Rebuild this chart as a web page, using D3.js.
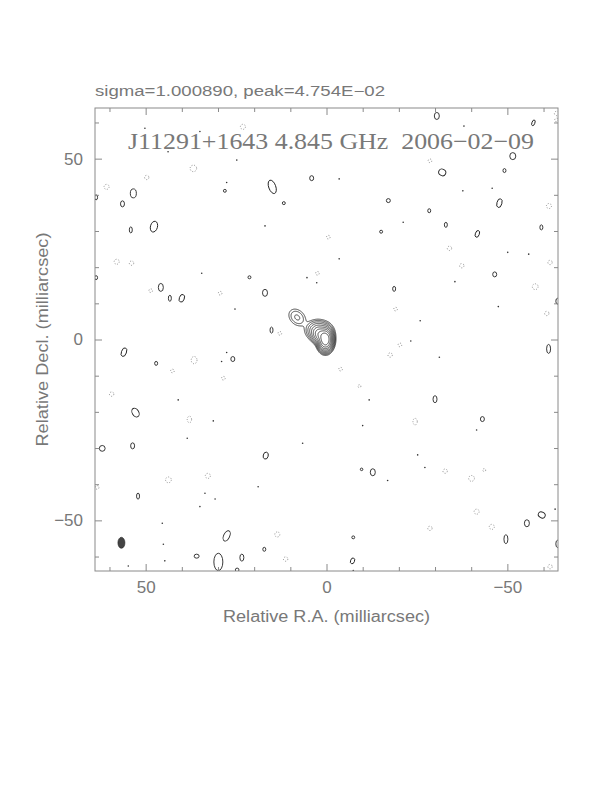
<!DOCTYPE html>
<html>
<head>
<meta charset="utf-8">
<script src="https://cdn.jsdelivr.net/npm/d3@7"></script>
<style>
  body { margin: 0; background: #fff; }
  svg { display: block; }
  text { white-space: pre; }
</style>
</head>
<body>
<svg id="chart"></svg>
<script>
// Texts
const headerText = "sigma=1.000890, peak=4.754E\u221202";
const mapTitle = "J11291+1643 4.845 GHz  2006\u221202\u221209";
const xLabel = "Relative R.A. (milliarcsec)";
const yLabel = "Relative Decl. (milliarcsec)";

// Axes (milliarcsec)
const xDomain = [64, -64];
const yDomain = [-64, 64];
const majorTicks = [-50, 0, 50];
const minorTicks = [-60, -40, -30, -20, -10, 10, 20, 30, 40, 60];

// Contour levels, as fraction of peak (doubling)
const contourLevels = [0.00195, 0.0039, 0.0078, 0.0156, 0.03125, 0.0625, 0.125, 0.25, 0.5];

// Source components: [x, y, amplitude, sigmaMajor, sigmaMinor, angle of major axis (deg)]
const components = [
  [0.3, 0.0, 1.0, 1.25, 0.82, 90],
  [1.6, 1.2, 0.25, 1.15, 0.95, 45],
  [2.0, 2.4, 0.05, 1.6, 1.25, 10],
  [8.1, 6.1, 0.009, 1.49, 1.11, 45]
];

// Small positive noise contours: [x, y, rx, ry, tilt]
const posBlobs = [
  [4.1, 44.6, 0.55, 0.69, 0], [28.1, 41.1, 0.4, 0.4, 0], [15.0, 42.2, 0.97, 1.94, -20],
  [63.7, 39.3, 0.41, 0.69, 0], [53.4, 40.4, 0.83, 1.24, 0], [56.4, 37.5, 0.55, 0.83, 0],
  [11.8, 37.7, 0.41, 0.41, 0], [54.1, 30.3, 0.41, 0.83, 0], [47.7, 31.2, 0.97, 1.52, 15],
  [21.3, 17.2, 0.41, 0.41, 0], [63.7, 17.1, 0.41, 0.55, 0], [45.8, 14.4, 0.69, 1.1, 0],
  [17.0, 12.9, 0.69, 0.97, 0], [43.3, 11.4, 0.41, 0.83, 0], [40.0, 11.4, 0.69, 1.1, 20],
  [15.2, 2.6, 0.41, 0.83, 0], [-30.5, 61.8, 0.69, 0.97, 0], [-57.2, 59.9, 0.41, 0.83, 20],
  [-51.5, 50.7, 0.83, 0.97, 0], [-49.2, 46.7, 0.41, 0.55, 0], [-32.0, 46.2, 1.0, 0.9, 30],
  [-17.1, 38.4, 0.55, 0.55, 0], [-47.8, 37.7, 0.69, 1.24, 15], [-28.4, 35.6, 0.41, 0.55, 0],
  [-33.0, 31.7, 0.41, 0.69, 0], [-15.1, 29.8, 0.41, 0.41, 0], [-41.7, 29.2, 0.55, 0.97, 20],
  [-59.4, 31.0, 0.41, 0.69, 0], [-46.5, 18.0, 0.55, 0.69, 0], [-18.7, 14.0, 0.41, 0.69, 0],
  [-63.9, 10.6, 0.5, 0.8, 0], [56.0, -3.5, 0.69, 1.24, 20], [47.1, -6.6, 0.41, 0.55, 0],
  [25.9, -5.4, 0.55, 0.69, 0], [52.8, -20.2, 0.9, 1.3, -30], [62.0, -30.1, 0.8, 0.8, 0],
  [53.6, -29.4, 0.55, 0.83, 0], [16.8, -32.1, 0.69, 0.97, 15], [52.1, -43.3, 0.41, 0.83, 0],
  [27.6, -54.3, 0.83, 1.52, 25], [17.2, -58.0, 0.41, 0.55, 0], [35.9, -59.9, 0.69, 0.55, 0],
  [29.9, -61.5, 1.24, 2.4, 0], [23.4, -60.3, 0.55, 0.97, 0], [24.7, -63.7, 0.5, 0.5, 0],
  [-61.4, -2.6, 0.55, 1.24, 0], [-30.0, -16.5, 0.55, 0.97, 0], [-43.1, -22.0, 0.55, 0.69, 0],
  [-12.8, -36.7, 0.69, 0.97, 0], [-9.7, -35.9, 0.35, 0.35, 0], [-55.4, -50.8, 0.69, 0.97, 0],
  [-59.5, -48.5, 1.0, 0.8, 30], [-49.6, -55.2, 0.55, 1.24, 0], [-7.4, -54.7, 0.4, 0.4, 0],
  [-63.9, -56.5, 0.5, 1.0, 0], [-7.2, -61.2, 0.55, 0.83, 20]
];

// Tiny positive noise peaks: [x, y]
const posDots = [
  [50.2, 58.4], [35.0, 57.5], [43.8, 51.9], [24.8, 49.6], [27.6, 43.4], [17.0, 31.4],
  [34.5, 18.3], [2.7, 15.7], [5.4, 17.1], [25.3, 8.4], [-38.0, 59.0], [-3.5, 44.4],
  [-37.7, 41.1], [-45.8, 41.8], [-21.2, 32.4], [-50.1, 24.1], [-55.9, 23.6], [-3.5, 22.3],
  [-35.5, 16.0], [-47.5, 9.1], [-25.9, 5.2], [27.6, -3.6], [29.0, -6.1], [41.0, -16.7],
  [31.3, -22.5], [38.5, -27.3], [6.6, -28.7], [18.9, -40.7], [33.6, -42.5], [30.8, -44.1],
  [35.0, -46.2], [45.4, -50.8], [45.1, -56.6], [54.8, -62.6], [44.7, -61.2], [-23.3, -0.4],
  [-31.2, -4.9], [-11.8, -16.7], [-10.0, -23.8], [-41.5, -25.0], [-25.2, -31.9],
  [-27.2, -35.4], [-16.9, -39.0], [-63.2, -46.9], [-7.4, -63.9]
];

// Negative noise contours (dotted): [x, y, rx, ry]
const negBlobs = [
  [23.1, 58.8, 0.7, 0.7], [36.8, 47.3, 0.9, 0.9], [49.7, 44.8, 0.6, 0.6], [60.8, 42.2, 0.7, 0.7],
  [58.0, 21.5, 0.7, 0.7], [53.9, 21.1, 0.6, 0.6], [2.5, 18.3, 0.5, 0.5], [48.6, 13.5, 0.5, 0.5],
  [29.4, 12.8, 0.5, 0.5], [12.9, 1.7, 0.5, 0.5], [-63.6, 62.5, 0.6, 0.6], [-63.6, 60.7, 0.5, 0.5],
  [-28.6, 49.4, 0.5, 0.5], [-61.5, 36.9, 0.7, 0.7], [-0.5, 28.3, 0.5, 0.5], [-34.0, 25.2, 0.6, 0.6],
  [-61.8, 21.3, 0.6, 0.6], [-37.4, 20.4, 0.6, 0.6], [-57.7, 14.6, 0.8, 0.8], [-19.1, 8.4, 0.5, 0.5],
  [-60.9, 7.2, 0.6, 0.6], [36.6, -5.7, 0.8, 1.0], [42.6, -8.7, 0.5, 0.5], [28.5, -10.7, 0.5, 0.5],
  [59.4, -15.1, 0.6, 0.6], [37.9, -22.1, 0.6, 0.9], [43.7, -38.8, 0.8, 0.8], [32.8, -37.7, 0.7, 0.7],
  [63.4, -40.9, 0.5, 0.5], [13.6, -53.9, 0.7, 0.7], [11.3, -60.7, 0.6, 0.6], [-20.3, -1.5, 0.5, 0.5],
  [-17.6, -4.3, 0.6, 0.6], [-3.9, -8.2, 0.5, 0.5], [-9.1, -12.9, 0.4, 0.4], [-24.5, -22.7, 0.6, 0.9],
  [-32.8, -36.4, 0.6, 0.6], [-40.1, -38.4, 0.8, 0.8], [-43.6, -36.1, 0.4, 0.4], [-41.5, -47.6, 0.7, 0.7],
  [-28.6, -52.2, 0.6, 0.6], [-45.7, -51.8, 0.7, 0.7], [-61.8, -62.8, 0.6, 0.6]
];

// Restoring beam: [x, y, semi-minor, semi-major]
const beam = [56.7, -56.2, 0.97, 1.52];

const W = 612, H = 792;
const frame = { left: 95, right: 558, top: 108, bottom: 571 };
const textColor = "#787878";

const svg = d3.select("#chart").attr("width", W).attr("height", H);

const x = d3.scaleLinear().domain(xDomain).range([frame.left, frame.right]);
const y = d3.scaleLinear().domain(yDomain).range([frame.bottom, frame.top]);
const kx = Math.abs(x(1) - x(0));
const ky = Math.abs(y(1) - y(0));

svg.append("defs").append("clipPath").attr("id", "plotClip")
  .append("rect")
  .attr("x", frame.left).attr("y", frame.top)
  .attr("width", frame.right - frame.left).attr("height", frame.bottom - frame.top);

const plot = svg.append("g").attr("clip-path", "url(#plotClip)");

// Grid of the source model for d3.contours
const gx0 = -7, gx1 = 14, gy0 = -8, gy1 = 12, step = 0.05;
const nx = Math.round((gx1 - gx0) / step) + 1;
const ny = Math.round((gy1 - gy0) / step) + 1;
const grid = new Float64Array(nx * ny);
for (let j = 0; j < ny; j++) {
  const yd = gy1 - j * step;
  for (let i = 0; i < nx; i++) {
    const xd = gx0 + i * step;
    let v = 0;
    for (const c of components) {
      const t = c[5] * Math.PI / 180;
      const dx = xd - c[0], dy = yd - c[1];
      const u = dx * Math.cos(t) + dy * Math.sin(t);
      const w = -dx * Math.sin(t) + dy * Math.cos(t);
      v += c[2] * Math.exp(-0.5 * (u * u / (c[3] * c[3]) + w * w / (c[4] * c[4])));
    }
    grid[j * nx + i] = v;
  }
}

const contours = d3.contours().size([nx, ny]).thresholds(contourLevels)(grid);
const toScreen = d3.geoTransform({
  point(px, py) {
    this.stream.point(x(gx0 + (px - 0.5) * step), y(gy1 - (py - 0.5) * step));
  }
});
const contourPath = d3.geoPath(toScreen);

plot.append("g")
  .selectAll("path")
  .data(contours)
  .join("path")
  .attr("d", contourPath)
  .attr("fill", "none")
  .attr("stroke", "#1a1a1a")
  .attr("stroke-width", 0.8);

// Noise contours
plot.append("g")
  .selectAll("ellipse")
  .data(posBlobs)
  .join("ellipse")
  .attr("cx", d => x(d[0]))
  .attr("cy", d => y(d[1]))
  .attr("rx", d => d[2] * kx)
  .attr("ry", d => d[3] * ky)
  .attr("transform", d => `rotate(${d[4]},${x(d[0])},${y(d[1])})`)
  .attr("fill", "none")
  .attr("stroke", "#222")
  .attr("stroke-width", 0.9);

plot.append("g")
  .selectAll("circle")
  .data(posDots)
  .join("circle")
  .attr("cx", d => x(d[0]))
  .attr("cy", d => y(d[1]))
  .attr("r", 0.8)
  .attr("fill", "#333");

plot.append("g")
  .selectAll("ellipse")
  .data(negBlobs)
  .join("ellipse")
  .attr("cx", d => x(d[0]))
  .attr("cy", d => y(d[1]))
  .attr("rx", d => d[2] * kx)
  .attr("ry", d => d[3] * ky)
  .attr("fill", "none")
  .attr("stroke", "#777")
  .attr("stroke-width", 0.8)
  .attr("stroke-dasharray", "1,1.6");

// Beam
plot.append("ellipse")
  .attr("cx", x(beam[0]))
  .attr("cy", y(beam[1]))
  .attr("rx", beam[2] * kx)
  .attr("ry", beam[3] * ky)
  .attr("fill", "#444")
  .attr("stroke", "#222")
  .attr("stroke-width", 0.6);

// Frame
svg.append("rect")
  .attr("x", frame.left).attr("y", frame.top)
  .attr("width", frame.right - frame.left).attr("height", frame.bottom - frame.top)
  .attr("fill", "none")
  .attr("stroke", "#8a8a8a")
  .attr("stroke-width", 1);

// Ticks on all four sides, pointing inward
function addAxis(axis, transform, labels) {
  const g = svg.append("g").attr("transform", transform).call(axis);
  g.select(".domain").remove();
  g.selectAll(".tick line").attr("stroke", "#8a8a8a");
  g.selectAll("text")
    .attr("fill", textColor)
    .attr("font-family", "Liberation Sans, Arial, sans-serif")
    .attr("font-size", 17);
  if (!labels) g.selectAll("text").remove();
  return g;
}

addAxis(d3.axisBottom(x).tickValues(majorTicks).tickSize(-7).tickPadding(10),
  `translate(0,${frame.bottom})`, true);
addAxis(d3.axisBottom(x).tickValues(minorTicks).tickSize(-4).tickFormat(""),
  `translate(0,${frame.bottom})`, false);
addAxis(d3.axisTop(x).tickValues(majorTicks).tickSize(-7),
  `translate(0,${frame.top})`, false);
addAxis(d3.axisTop(x).tickValues(minorTicks).tickSize(-4),
  `translate(0,${frame.top})`, false);
addAxis(d3.axisLeft(y).tickValues(majorTicks).tickSize(-7).tickPadding(12),
  `translate(${frame.left},0)`, true);
addAxis(d3.axisLeft(y).tickValues(minorTicks).tickSize(-4).tickFormat(""),
  `translate(${frame.left},0)`, false);
addAxis(d3.axisRight(y).tickValues(majorTicks).tickSize(-7),
  `translate(${frame.right},0)`, false);
addAxis(d3.axisRight(y).tickValues(minorTicks).tickSize(-4),
  `translate(${frame.right},0)`, false);

// Texts
svg.append("text")
  .attr("x", 95).attr("y", 96)
  .attr("font-family", "Liberation Sans, Arial, sans-serif")
  .attr("font-size", 14)
  .attr("fill", textColor)
  .attr("textLength", 290)
  .attr("lengthAdjust", "spacingAndGlyphs")
  .text(headerText);

svg.append("text")
  .attr("x", 128).attr("y", 149)
  .attr("xml:space", "preserve")
  .attr("font-family", "Liberation Serif, 'Times New Roman', serif")
  .attr("font-size", 23)
  .attr("fill", textColor)
  .attr("textLength", 406)
  .attr("lengthAdjust", "spacingAndGlyphs")
  .text(mapTitle);

svg.append("text")
  .attr("x", (frame.left + frame.right) / 2).attr("y", 622)
  .attr("text-anchor", "middle")
  .attr("font-family", "Liberation Sans, Arial, sans-serif")
  .attr("font-size", 16)
  .attr("fill", textColor)
  .attr("textLength", 207)
  .attr("lengthAdjust", "spacingAndGlyphs")
  .text(xLabel);

svg.append("text")
  .attr("transform", `translate(48,${(frame.top + frame.bottom) / 2}) rotate(-90)`)
  .attr("text-anchor", "middle")
  .attr("font-family", "Liberation Sans, Arial, sans-serif")
  .attr("font-size", 16)
  .attr("fill", textColor)
  .attr("textLength", 214)
  .attr("lengthAdjust", "spacingAndGlyphs")
  .text(yLabel);
</script>
</body>
</html>
